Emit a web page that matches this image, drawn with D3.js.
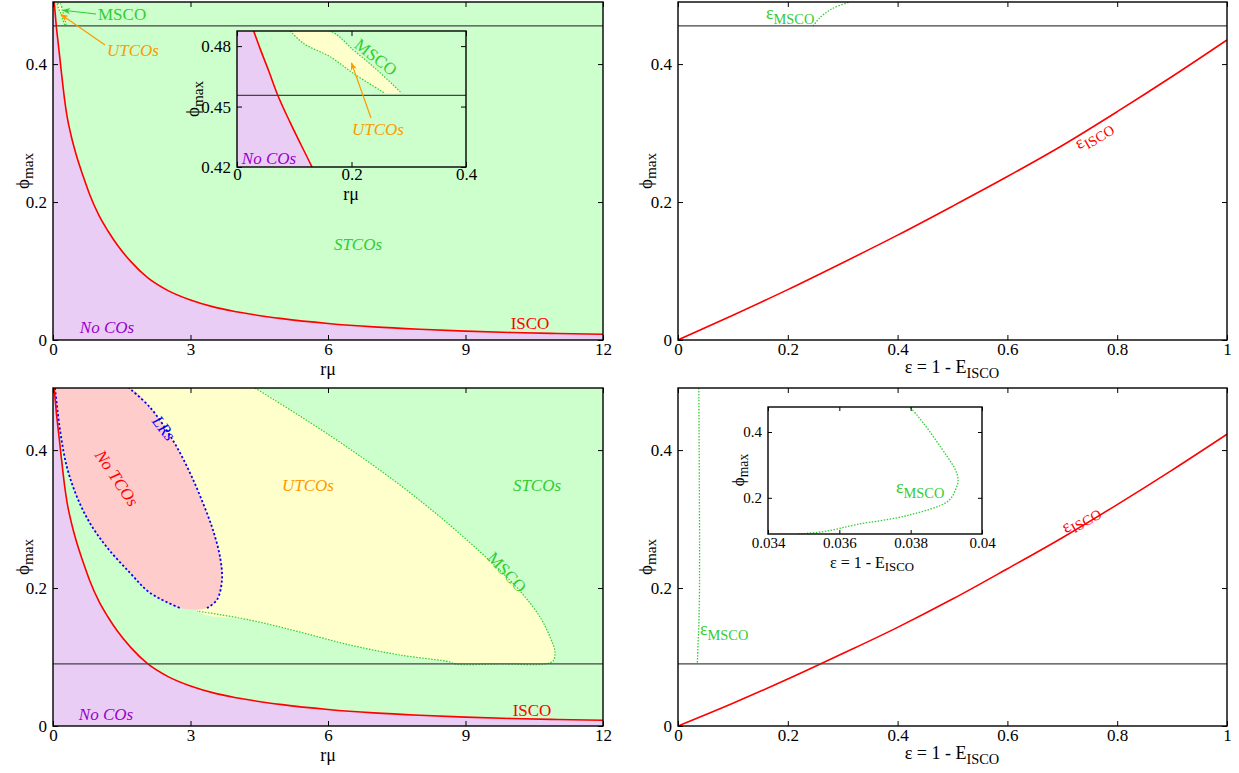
<!DOCTYPE html>
<html><head><meta charset="utf-8">
<script src="https://cdn.jsdelivr.net/npm/d3@7"></script>
<style>
body{margin:0;background:#fff}
svg{display:block}
svg text{font-family:"Liberation Serif","Times New Roman",Times,"DejaVu Serif",serif !important}
</style>
</head><body>
<svg id="c" width="1239" height="773" font-family="Liberation Serif, Times New Roman, serif"></svg>
<script>
// ---------------- DATA ----------------
const xTicksR = [0, 3, 6, 9, 12];
const xTicksEps = [0, 0.2, 0.4, 0.6, 0.8, 1];
const yTicksMain = [0, 0.2, 0.4];
const xTicksInsetR = [0, 0.2, 0.4];
const yTicksInsetR = [0.42, 0.45, 0.48];
const xTicksInsetEps = [0.034, 0.036, 0.038, 0.04];
const yTicksInsetEps = [0.2, 0.4];

// ISCO boundary in (r mu, phi_max) plane (left panels)
const iscoR   = [0.026, 0.040, 0.055, 0.070, 0.093, 0.131, 0.18, 0.25, 0.305, 0.40, 0.50, 0.655, 0.80, 1.00, 1.20, 1.40, 1.70, 2.07, 2.50, 3.00, 3.50, 4.00, 5.00, 6.00, 7.00, 8.00, 9.00, 10.0, 11.0, 12.0];
const iscoPhi = [0.490, 0.479, 0.468, 0.4565, 0.442, 0.420, 0.390, 0.350, 0.325, 0.295, 0.270, 0.238, 0.211, 0.181, 0.158, 0.138, 0.1136, 0.090, 0.072, 0.058, 0.048, 0.041, 0.031, 0.024, 0.019, 0.0155, 0.0128, 0.0109, 0.0095, 0.0083];

// top-left: horizontal line and MSCO/UTCO band (inset)
const phiLineTop = 0.4555;
const mscoOuterR   = [0.093, 0.1628, 0.2035, 0.2384, 0.2733, 0.2878];
const mscoOuterPhi = [0.4875, 0.4875, 0.4780, 0.4697, 0.4606, 0.4565];
const mscoInnerR   = [0.093, 0.1163, 0.1628, 0.2035, 0.25, 0.2587];
const mscoInnerPhi = [0.4875, 0.4813, 0.4747, 0.4664, 0.4581, 0.4565];

// bottom-left: horizontal line, light rings, MSCO
const phiLineBot = 0.09;
const lrLeftR    = [0.044, 0.153, 0.305, 0.524, 0.807, 1.178, 1.68, 2.116, 2.771];
const lrLeftPhi  = [0.490, 0.429, 0.375, 0.332, 0.294, 0.259, 0.222, 0.193, 0.171];
const lrRightR   = [3.36, 3.578, 3.687, 3.644, 3.491, 3.273, 2.989, 2.618, 2.116, 1.658];
const lrRightPhi = [0.171, 0.183, 0.212, 0.245, 0.284, 0.323, 0.367, 0.414, 0.462, 0.490];
const mscoBotR   = [4.407, 5.389, 6.480, 7.571, 8.553, 9.535, 10.189, 10.625, 10.844, 10.953, 10.909, 10.735, 9.80, 8.771, 8.662, 7.571, 6.480, 5.389, 4.298, 3.142];
const mscoBotPhi = [0.490, 0.4493, 0.4014, 0.3493, 0.2971, 0.2391, 0.1957, 0.1580, 0.1290, 0.1072, 0.0942, 0.0899, 0.0899, 0.0899, 0.0928, 0.1029, 0.1174, 0.1362, 0.1536, 0.1667];
const utcoCloseR   = [3.0, 2.5, 1.5, 3.0];
const utcoClosePhi = [0.20, 0.35, 0.50, 0.52];

// right panels: epsilon = 1 - E
const epsIscoTop = [0, 0.1, 0.2, 0.3, 0.4, 0.5, 0.6, 0.7, 0.8, 0.9, 1.0];
const phiIscoTop = [0, 0.036, 0.073, 0.112, 0.152, 0.194, 0.237, 0.282, 0.331, 0.382, 0.435];
const epsMscoTop = [0.246, 0.258, 0.280, 0.313];
const phiMscoTop = [0.455, 0.467, 0.480, 0.490];
const epsIscoBot = [0, 0.1, 0.2, 0.3, 0.4, 0.5, 0.6, 0.7, 0.8, 0.9, 1.0];
const phiIscoBot = [0, 0.033, 0.068, 0.105, 0.143, 0.184, 0.228, 0.273, 0.321, 0.371, 0.423];
const epsMscoBot = [0.0378, 0.03797, 0.03835, 0.03902, 0.03925, 0.03933, 0.03926, 0.03905, 0.0379, 0.0365, 0.03565, 0.0350, 0.0348];
const phiMscoBot = [0.490, 0.476, 0.428, 0.326, 0.286, 0.255, 0.225, 0.190, 0.146, 0.119, 0.099, 0.091, 0.090];

// ---------------- STYLE ----------------
const FONT = '"Liberation Serif","Times New Roman",Times,serif';
const C = {
  green: '#ccffcc', purple: '#e9cdf5', yellow: '#ffffcc', pink: '#ffcccc',
  red: '#ff0000', gtext: '#33cc33', gline: '#33cc33', ptext: '#9900cc',
  orange: '#ff9900', blue: '#0000ff', hline: '#444444'
};
const zip = (a, b) => a.map((v, i) => [v, b[i]]);

const svg = d3.select('#c');
const defs = svg.append('defs');
function marker(id, col) {
  defs.append('marker').attr('id', id).attr('viewBox', '0 0 10 10').attr('refX', 9).attr('refY', 5)
    .attr('markerWidth', 8).attr('markerHeight', 8).attr('orient', 'auto-start-reverse')
    .attr('markerUnits', 'userSpaceOnUse')
    .append('path').attr('d', 'M0,1 L10,5 L0,9 L3,5 Z').attr('fill', col);
}
marker('ag', C.gline); marker('ao', C.orange);

let clipN = 0;
function makePanel(box, xDom, yDom, bg) {
  const x = d3.scaleLinear().domain(xDom).range([box.x0, box.x1]);
  const y = d3.scaleLinear().domain(yDom).range([box.y1, box.y0]);
  const id = 'clip' + (clipN++);
  defs.append('clipPath').attr('id', id).append('rect')
    .attr('x', box.x0).attr('y', box.y0).attr('width', box.x1 - box.x0).attr('height', box.y1 - box.y0);
  const g = svg.append('g');
  g.append('rect').attr('x', box.x0).attr('y', box.y0).attr('width', box.x1 - box.x0).attr('height', box.y1 - box.y0)
    .attr('fill', bg);
  const plot = g.append('g').attr('clip-path', `url(#${id})`);
  return { x, y, g, plot, box };
}
function axes(p, xt, yt, fs, tl, padX) {
  const { x, y, g, box } = p;
  const fmt = d => String(d);
  const style = sel => {
    sel.attr('font-family', FONT);
    sel.select('.domain').remove();
    sel.selectAll('line').attr('stroke', '#000').attr('stroke-width', 1);
    sel.selectAll('text').attr('font-size', fs).attr('fill', '#000').attr('font-family', FONT);
  };
  g.append('g').attr('transform', `translate(0,${box.y1})`)
    .call(d3.axisBottom(x).tickValues(xt).tickSize(-tl).tickPadding(padX).tickFormat(fmt)).call(style);
  g.append('g').attr('transform', `translate(0,${box.y0})`)
    .call(d3.axisTop(x).tickValues(xt).tickSize(-tl).tickFormat('')).call(style);
  g.append('g').attr('transform', `translate(${box.x0},0)`)
    .call(d3.axisLeft(y).tickValues(yt).tickSize(-tl).tickPadding(6).tickFormat(fmt)).call(style);
  g.append('g').attr('transform', `translate(${box.x1},0)`)
    .call(d3.axisRight(y).tickValues(yt).tickSize(-tl).tickFormat('')).call(style);
  g.append('rect').attr('x', box.x0).attr('y', box.y0).attr('width', box.x1 - box.x0).attr('height', box.y1 - box.y0)
    .attr('fill', 'none').attr('stroke', '#000').attr('stroke-width', 1.4);
}
function line(p, pts, col, w, dash, curve) {
  const gen = d3.line().x(d => p.x(d[0])).y(d => p.y(d[1])).curve(curve || d3.curveLinear);
  return p.plot.append('path').attr('d', gen(pts)).attr('fill', 'none').attr('stroke', col)
    .attr('stroke-width', w).attr('stroke-dasharray', dash || null).attr('stroke-linejoin', 'round');
}
function area(p, pts, col, curve) {
  const gen = d3.line().x(d => p.x(d[0])).y(d => p.y(d[1])).curve(curve || d3.curveLinearClosed);
  return p.plot.append('path').attr('d', gen(pts)).attr('fill', col).attr('stroke', 'none');
}
function iscoFill(p) {
  const pts = zip(iscoR, iscoPhi);
  p.plot.append('path').attr('fill', C.purple)
    .attr('d', d3.area().x(d => p.x(d[0])).y0(p.y(0) + 5).y1(d => p.y(d[1])).curve(d3.curveMonotoneX)(pts));
  p.plot.append('rect').attr('x', p.x(0)).attr('width', p.x(iscoR[0]) - p.x(0) + 0.5)
    .attr('y', p.box.y0).attr('height', p.box.y1 - p.box.y0).attr('fill', C.purple);
}
function hline(p, v) {
  p.plot.append('line').attr('x1', p.box.x0).attr('x2', p.box.x1).attr('y1', p.y(v)).attr('y2', p.y(v))
    .attr('stroke', C.hline).attr('stroke-width', 1.2);
}
function label(parent, x, y, txt, opt) {
  opt = opt || {};
  const fs = opt.fs || 17;
  const t = parent.append('text').attr('font-size', fs).attr('fill', opt.col || '#000')
    .attr('font-family', FONT)
    .attr('text-anchor', opt.anchor || 'middle').attr('font-style', opt.it ? 'italic' : null)
    .attr('transform', `translate(${x},${y}) rotate(${opt.rot || 0})`).attr('dy', '0.35em');
  t.append('tspan').text(txt);
  if (opt.sub) t.append('tspan').attr('dy', '0.3em').attr('font-size', fs * 0.8).text(opt.sub);
  return t;
}
const MX = d3.curveMonotoneX, CR = d3.curveCatmullRom, CRC = d3.curveCatmullRomClosed;

// ---------------- PANELS ----------------
const BTL = { x0: 53, x1: 603, y0: 2, y1: 340 };
const BTR = { x0: 678, x1: 1227, y0: 2, y1: 340 };
const BBL = { x0: 53, x1: 603, y0: 388, y1: 726 };
const BBR = { x0: 678, x1: 1227, y0: 388, y1: 726 };
const iscoPts = zip(iscoR, iscoPhi);
const bandPts = zip(mscoOuterR, mscoOuterPhi).concat(zip(mscoInnerR, mscoInnerPhi).reverse());

// ---- top-left ----
const tl = makePanel(BTL, [0, 12], [0, 0.49], C.green);
iscoFill(tl);
area(tl, bandPts, C.yellow);
line(tl, zip(mscoOuterR, mscoOuterPhi), C.gline, 1.2, '1.5,1.5', CR);
line(tl, zip(mscoInnerR, mscoInnerPhi), C.gline, 1.2, '1.5,1.5', CR);
line(tl, iscoPts, C.red, 1.6, null, MX);
hline(tl, phiLineTop);
axes(tl, xTicksR, yTicksMain, 17, 5, 3);
label(tl.g, 328, 369, 'rμ', { fs: 18 });
label(tl.g, 22, 171, 'ϕ', { fs: 19, rot: -90, sub: 'max' });
label(tl.g, 358, 244, 'STCOs', { col: C.gtext, it: true });
label(tl.g, 107, 327, 'No COs', { col: C.ptext, it: true });
label(tl.g, 530, 323, 'ISCO', { col: C.red });
label(tl.g, 98, 14, 'MSCO', { col: C.gtext, anchor: 'start' });
label(tl.g, 107, 50, 'UTCOs', { col: C.orange, it: true, anchor: 'start' });
tl.g.append('line').attr('x1', 96).attr('y1', 14).attr('x2', tl.x(0.218)).attr('y2', tl.y(0.478))
  .attr('stroke', C.gline).attr('stroke-width', 1.2).attr('marker-end', 'url(#ag)');
tl.g.append('line').attr('x1', 105).attr('y1', 45).attr('x2', tl.x(0.175)).attr('y2', tl.y(0.472))
  .attr('stroke', C.orange).attr('stroke-width', 1.2).attr('marker-end', 'url(#ao)');

// ---- top-left inset ----
const ti = makePanel({ x0: 237, x1: 466, y0: 31, y1: 167 }, [0, 0.4], [0.42, 0.4875], C.green);
iscoFill(ti);
area(ti, bandPts, C.yellow);
line(ti, zip(mscoOuterR, mscoOuterPhi), C.gline, 1.2, '1.5,1.5', CR);
line(ti, zip(mscoInnerR, mscoInnerPhi), C.gline, 1.2, '1.5,1.5', CR);
line(ti, iscoPts, C.red, 1.6, null, MX);
hline(ti, phiLineTop);
axes(ti, xTicksInsetR, yTicksInsetR, 17, 5, 1);
label(ti.g, 351, 194, 'rμ', { fs: 18 });
label(ti.g, 192, 99, 'ϕ', { fs: 19, rot: -90, sub: 'max' });
label(ti.g, 376, 57, 'MSCO', { col: C.gtext, rot: 38 });
label(ti.g, 378, 129, 'UTCOs', { col: C.orange, it: true });
label(ti.g, 269, 158, 'No COs', { col: C.ptext, it: true });
ti.g.append('line').attr('x1', 371).attr('y1', 118).attr('x2', ti.x(0.2)).attr('y2', ti.y(0.4716))
  .attr('stroke', C.orange).attr('stroke-width', 1.2).attr('marker-end', 'url(#ao)');

// ---- top-right ----
const tr = makePanel(BTR, [0, 1], [0, 0.49], '#fff');
line(tr, zip(epsMscoTop, phiMscoTop), C.gline, 1.3, '1.5,1.5', CR);
line(tr, zip(epsIscoTop, phiIscoTop), C.red, 1.6, null, MX);
hline(tr, phiLineTop);
axes(tr, xTicksEps, yTicksMain, 17, 5, 3);
label(tr.g, 952, 367, 'ε = 1 - E', { fs: 18, sub: 'ISCO' });
label(tr.g, 645, 171, 'ϕ', { fs: 19, rot: -90, sub: 'max' });
label(tr.g, 766, 13, 'ε', { col: C.gtext, anchor: 'start', fs: 18, sub: 'MSCO' });
label(tr.g, 1093, 134, 'ε', { col: C.red, rot: -31, fs: 18, sub: 'ISCO' });

// ---- bottom-left ----
const bl = makePanel(BBL, [0, 12], [0, 0.49], C.green);
area(bl, zip(mscoBotR, mscoBotPhi).concat(zip(utcoCloseR, utcoClosePhi)), C.yellow, CRC);
area(bl, zip(lrLeftR, lrLeftPhi).concat(zip(lrRightR, lrRightPhi)), C.pink, CRC);
iscoFill(bl);
line(bl, zip(mscoBotR, mscoBotPhi), C.gline, 1.2, '1.5,1.5', CR);
line(bl, zip(lrLeftR, lrLeftPhi), C.blue, 1.8, '2.2,2.2', CR);
line(bl, zip(lrRightR, lrRightPhi), C.blue, 1.8, '2.2,2.2', CR);
line(bl, iscoPts, C.red, 1.6, null, MX);
hline(bl, phiLineBot);
axes(bl, xTicksR, yTicksMain, 17, 5, 3);
label(bl.g, 328, 755, 'rμ', { fs: 18 });
label(bl.g, 22, 557, 'ϕ', { fs: 19, rot: -90, sub: 'max' });
label(bl.g, 117, 478, 'No TCOs', { col: C.red, it: true, rot: 56 });
label(bl.g, 164, 428, 'LRs', { col: C.blue, it: true, rot: 52 });
label(bl.g, 308, 485, 'UTCOs', { col: C.orange, it: true });
label(bl.g, 537, 485, 'STCOs', { col: C.gtext, it: true });
label(bl.g, 507, 572, 'MSCO', { col: C.gtext, rot: 47 });
label(bl.g, 532, 710, 'ISCO', { col: C.red });
label(bl.g, 106, 714, 'No COs', { col: C.ptext, it: true });

// ---- bottom-right ----
const br = makePanel(BBR, [0, 1], [0, 0.49], '#fff');
line(br, zip(epsMscoBot, phiMscoBot), C.gline, 1.3, '1.5,1.5', CR);
line(br, zip(epsIscoBot, phiIscoBot), C.red, 1.6, null, MX);
hline(br, phiLineBot);
axes(br, xTicksEps, yTicksMain, 17, 5, 3);
label(br.g, 952, 753, 'ε = 1 - E', { fs: 18, sub: 'ISCO' });
label(br.g, 645, 557, 'ϕ', { fs: 19, rot: -90, sub: 'max' });
label(br.g, 700, 629, 'ε', { col: C.gtext, anchor: 'start', fs: 18, sub: 'MSCO' });
label(br.g, 1080, 518, 'ε', { col: C.red, rot: -30, fs: 18, sub: 'ISCO' });

// ---- bottom-right inset ----
const bi = makePanel({ x0: 768, x1: 982, y0: 407, y1: 534 }, [0.034, 0.04], [0.09, 0.476], '#fff');
line(bi, zip(epsMscoBot, phiMscoBot), C.gline, 1.3, '1.5,1.5', CR);
axes(bi, xTicksInsetEps, yTicksInsetEps, 15, 4, 3);
label(bi.g, 872, 562, 'ε = 1 - E', { fs: 16, sub: 'ISCO' });
label(bi.g, 738, 470, 'ϕ', { fs: 17, rot: -90, sub: 'max' });
label(bi.g, 896, 487, 'ε', { col: C.gtext, anchor: 'start', fs: 18, sub: 'MSCO' });
</script>
</body></html>
